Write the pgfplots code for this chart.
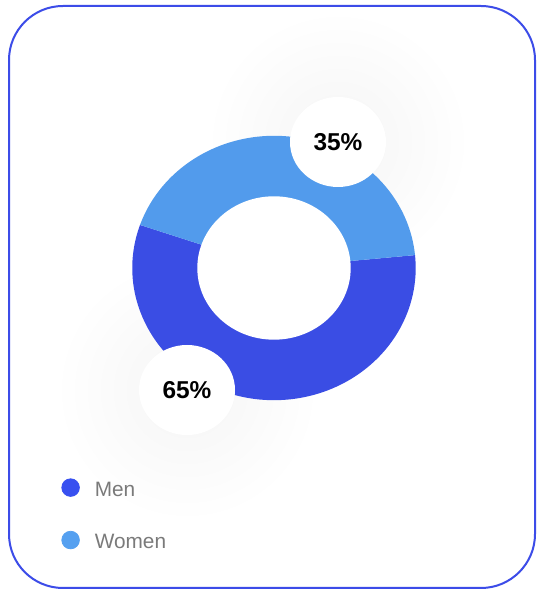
\documentclass[border=0pt]{standalone}
\usepackage{pgfplots}
\pgfplotsset{compat=1.18}
\usepackage{pgfplotstable}
\usepackage{fontspec}
\setmainfont{Liberation Sans}

\definecolor{men}{RGB}{58,77,228}
\definecolor{women}{RGB}{82,155,236}
\definecolor{menkey}{RGB}{56,80,240}
\definecolor{womenkey}{RGB}{85,160,240}
\definecolor{frame}{RGB}{60,76,232}
\definecolor{keytext}{RGB}{122,122,122}

% slices: angles as drawn (deg), share as labelled, label bubble position
\pgfplotstableread{
label start end share lx ly
Men 161.0 365.6 65 187 204
Women 5.6 161.0 35 338 452
}\donut

\begin{document}
\begin{tikzpicture}
\begin{axis}[
    x=0.5pt, y=0.5pt,
    xmin=0, xmax=542, ymin=0, ymax=594,
    hide axis, clip=false,
    legend style={at={(axis cs:61,116)}, anchor=north west, draw=none, fill=none,
        font=\fontsize{10.4}{12}\selectfont, text=keytext, row sep=14.8pt,
        inner sep=0pt, nodes={inner sep=1pt}},
    legend cell align=left,
]
\fill[white] (axis cs:0,0) rectangle (axis cs:542,594);
\draw[frame, line width=1pt, rounded corners=27pt] (axis cs:9,6) rectangle (axis cs:535,588);

% soft shadows under the label bubbles
\pgfplotsforeachungrouped \i in {0,1}{%
  \pgfplotstablegetelem{\i}{lx}\of\donut \let\bx\pgfplotsretval
  \pgfplotstablegetelem{\i}{ly}\of\donut \let\by\pgfplotsretval
  \edef\halo{\noexpand\shade[inner color=black!4, outer color=white] (axis cs:\bx,\by) circle[radius=66pt];}%
  \halo
}

\pgfplotsforeachungrouped \i in {0,1}{%
  \pgfplotstablegetelem{\i}{start}\of\donut \let\s\pgfplotsretval
  \pgfplotstablegetelem{\i}{end}\of\donut \let\e\pgfplotsretval
  \ifnum\i=0 \def\slicecol{men}\else\def\slicecol{women}\fi
  \edef\slice{\noexpand\fill[\slicecol] (axis cs:274,326) -- ++(\s:70.85pt and 66.1pt)
     arc[start angle=\s, end angle=\e, x radius=70.85pt, y radius=66.1pt] -- cycle;}%
  \slice
}
\fill[white] (axis cs:274,326) ellipse[x radius=38.35pt, y radius=35.85pt];

\pgfplotsforeachungrouped \i in {0,1}{%
  \pgfplotstablegetelem{\i}{lx}\of\donut \let\bx\pgfplotsretval
  \pgfplotstablegetelem{\i}{ly}\of\donut \let\by\pgfplotsretval
  \pgfplotstablegetelem{\i}{share}\of\donut \let\sh\pgfplotsretval
  \edef\bubble{\noexpand\fill[white] (axis cs:\bx,\by) ellipse[x radius=24pt, y radius=22.5pt];
    \noexpand\node[font=\noexpand\bfseries\noexpand\fontsize{12.2}{14}\noexpand\selectfont] at (axis cs:\bx,\by) {\sh\noexpand\%};}%
  \bubble
}

\addlegendimage{legend image code/.code={\fill[menkey] (4.4pt,1.5pt) circle (4.4pt);}}
\addlegendentry{\hspace{6.5pt}Men}
\addlegendimage{legend image code/.code={\fill[womenkey] (4.4pt,1.5pt) circle (4.4pt);}}
\addlegendentry{\hspace{6.5pt}Women}
\end{axis}
\end{tikzpicture}
\end{document}
